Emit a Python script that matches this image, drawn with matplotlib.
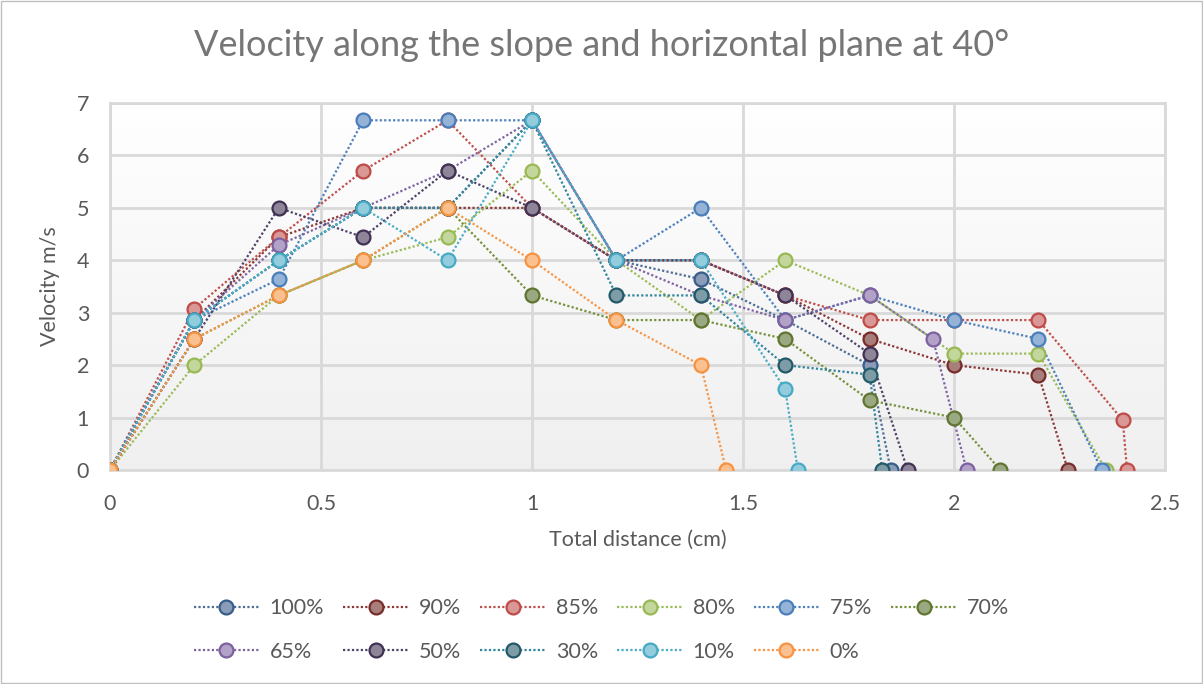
import matplotlib
matplotlib.use('Agg')
import matplotlib.pyplot as plt
from matplotlib.lines import Line2D
from matplotlib.patches import Rectangle
import numpy as np

plt.rcParams['font.family'] = ['Lato', 'DejaVu Sans']

# ---- data ----
labels = ['100%', '90%', '85%', '80%', '75%', '70%', '65%', '50%', '30%', '10%', '0%']

x_100 = [0, 0.2, 0.4, 0.6, 0.8, 1.0, 1.2, 1.4, 1.6, 1.8, 1.85]
v_100 = [0, 2.86, 4.0, 5.0, 5.0, 6.67, 4.0, 3.64, 2.86, 2.0, 0]

x_90 = [0, 0.2, 0.4, 0.6, 0.8, 1.0, 1.2, 1.4, 1.6, 1.8, 2.0, 2.2, 2.27]
v_90 = [0, 2.86, 4.44, 5.0, 5.0, 5.0, 4.0, 4.0, 3.33, 2.5, 2.0, 1.82, 0]

x_85 = [0, 0.2, 0.4, 0.6, 0.8, 1.0, 1.2, 1.4, 1.6, 1.8, 2.0, 2.2, 2.4, 2.41]
v_85 = [0, 3.08, 4.44, 5.71, 6.67, 5.0, 4.0, 4.0, 3.33, 2.86, 2.86, 2.86, 0.95, 0]

x_80 = [0, 0.2, 0.4, 0.6, 0.8, 1.0, 1.2, 1.4, 1.6, 1.8, 2.0, 2.2, 2.36]
v_80 = [0, 2.0, 3.33, 4.0, 4.44, 5.71, 4.0, 2.86, 4.0, 3.33, 2.22, 2.22, 0]

x_75 = [0, 0.2, 0.4, 0.6, 0.8, 1.0, 1.2, 1.4, 1.6, 1.8, 2.0, 2.2, 2.35]
v_75 = [0, 2.86, 3.64, 6.67, 6.67, 6.67, 4.0, 5.0, 2.86, 3.33, 2.86, 2.5, 0]

x_70 = [0, 0.2, 0.4, 0.6, 0.8, 1.0, 1.2, 1.4, 1.6, 1.8, 2.0, 2.11]
v_70 = [0, 2.5, 3.33, 4.0, 5.0, 3.33, 2.86, 2.86, 2.5, 1.33, 1.0, 0]

x_65 = [0, 0.2, 0.4, 0.6, 0.8, 1.0, 1.2, 1.4, 1.6, 1.8, 1.95, 2.03]
v_65 = [0, 2.86, 4.29, 5.0, 5.71, 6.67, 4.0, 3.33, 2.86, 3.33, 2.5, 0]

x_50 = [0, 0.2, 0.4, 0.6, 0.8, 1.0, 1.2, 1.4, 1.6, 1.8, 1.89]
v_50 = [0, 2.5, 5.0, 4.44, 5.71, 5.0, 4.0, 4.0, 3.33, 2.22, 0]

x_30 = [0, 0.2, 0.4, 0.6, 0.8, 1.0, 1.2, 1.4, 1.6, 1.8, 1.83]
v_30 = [0, 2.86, 4.0, 5.0, 5.0, 6.67, 3.33, 3.33, 2.0, 1.82, 0]

x_10 = [0, 0.2, 0.4, 0.6, 0.8, 1.0, 1.2, 1.4, 1.6, 1.63]
v_10 = [0, 2.86, 4.0, 5.0, 4.0, 6.67, 4.0, 4.0, 1.54, 0]

x_0 = [0, 0.2, 0.4, 0.6, 0.8, 1.0, 1.2, 1.4, 1.46]
v_0 = [0, 2.5, 3.33, 4.0, 5.0, 4.0, 2.86, 2.0, 0]

xs = [x_100, x_90, x_85, x_80, x_75, x_70, x_65, x_50, x_30, x_10, x_0]
vs = [v_100, v_90, v_85, v_80, v_75, v_70, v_65, v_50, v_30, v_10, v_0]

# (line colour, marker fill, marker edge)
styles = [
    ('#4F6D96', '#8A9CB8', '#385D8A'),
    ('#8C3836', '#A87E7D', '#772C2A'),
    ('#C0504D', '#D99795', '#BE4B48'),
    ('#9BBB59', '#C3D69B', '#98B954'),
    ('#4F81BD', '#95B3D7', '#4A7EBB'),
    ('#76923C', '#9BA982', '#5F7530'),
    ('#8064A2', '#B3A2C7', '#7D60A0'),
    ('#4F4268', '#8E8698', '#403152'),
    ('#31859C', '#7D9CA5', '#215968'),
    ('#4BACC6', '#93CDDD', '#46AAC5'),
    ('#F79646', '#FAC090', '#F69240'),
]

TXT = '#595959'
FS = 15.5

fig = plt.figure(figsize=(12.03, 6.84), dpi=100)
ax = fig.add_axes([110 / 1203, 1 - 470 / 684, 1055 / 1203, 367 / 684])

# light vertical gradient in the plot area
grad = np.linspace(1.0, 0.94, 256).reshape(-1, 1)
ax.imshow(np.dstack([grad, grad, grad]), extent=[0, 1, 0, 1], transform=ax.transAxes,
          aspect='auto', zorder=0)

dots = (0, (1, 1))
handles = []
for x, v, lab, (lc, fc, ec) in zip(xs, vs, labels, styles):
    ax.plot(x, v, linestyle=dots, color=lc, linewidth=1.6, zorder=2)
    ax.plot(x, v, linestyle='none', marker='o', markersize=10, markerfacecolor=fc,
            markeredgecolor=ec, markeredgewidth=1.6, zorder=3)
    handles.append(Line2D([0], [0], linestyle=dots, color=lc, linewidth=1.6, marker='o',
                          markersize=10, markerfacecolor=fc, markeredgecolor=ec,
                          markeredgewidth=1.6, label=lab))

ax.set_xlim(0, 2.5)
ax.set_ylim(0, 7)
ax.set_xticks([0, 0.5, 1, 1.5, 2, 2.5])
ax.set_xticklabels(['0', '0.5', '1', '1.5', '2', '2.5'])
ax.set_yticks(range(0, 8))
ax.grid(True, color='#D9D9D9', linewidth=2)
ax.set_axisbelow(True)
for s in ax.spines.values():
    s.set_color('#D9D9D9')
    s.set_linewidth(2)
ax.tick_params(axis='x', length=0, labelsize=FS, colors=TXT, pad=17)
ax.tick_params(axis='y', length=0, labelsize=FS, colors=TXT, pad=15)
ax.set_xlabel('Total distance (cm)', fontsize=FS, color=TXT, labelpad=12)
ax.set_ylabel('Velocity m/s', fontsize=FS, color=TXT, labelpad=12)

fig.text(0.5, 1 - 45 / 684, 'Velocity along the slope and horizontal plane at 40°',
         ha='center', va='center', fontsize=26, color='#767676')

# legend: excel fills row by row, matplotlib column by column
order = [0, 6, 1, 7, 2, 8, 3, 9, 4, 10, 5]
leg = fig.legend([handles[i] for i in order], [labels[i] for i in order],
                 ncol=6, loc='center', bbox_to_anchor=(0.5, 1 - 630 / 684),
                 frameon=False, fontsize=FS, handlelength=3.0, columnspacing=0.9,
                 labelspacing=1.1, handletextpad=0.5)
for t in leg.get_texts():
    t.set_color(TXT)

fig.patches.append(Rectangle((0.001, 0.001), 0.998, 0.998, transform=fig.transFigure,
                             fill=False, edgecolor='#BFBFBF', linewidth=1))

fig.savefig('out.png', dpi=100, facecolor='white')
